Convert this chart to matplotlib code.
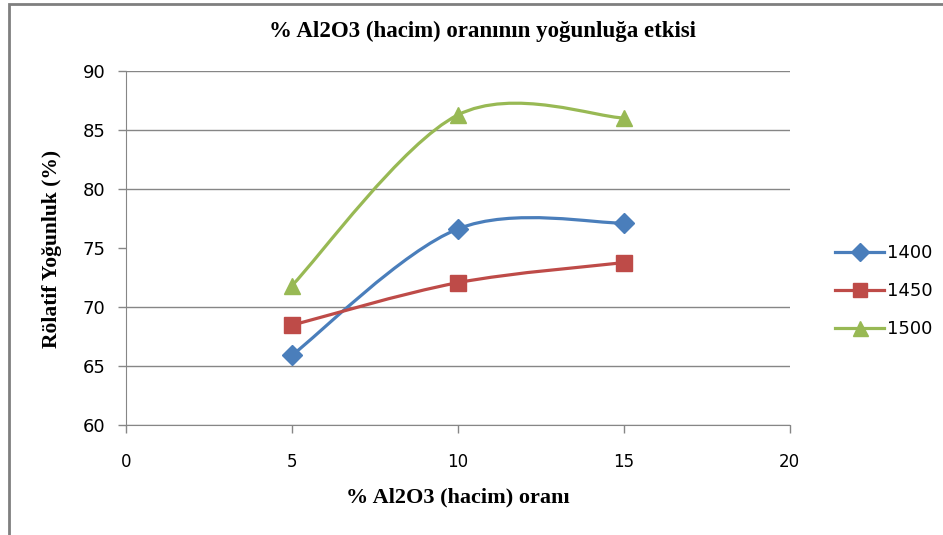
import matplotlib
matplotlib.use("Agg")
import matplotlib.pyplot as plt
import numpy as np
from matplotlib.path import Path
from matplotlib.patches import PathPatch, Rectangle
from matplotlib.lines import Line2D

# data
oran = [5, 10, 15]
y_1400 = [65.9, 76.6, 77.1]
y_1450 = [68.45, 72.05, 73.75]
y_1500 = [71.8, 86.25, 86.0]

series_names = ["1400", "1450", "1500"]
colors = ["#4A7EBB", "#BE4B48", "#98B954"]
markers = ["D", "s", "^"]
marker_sizes = [10, 11, 12]

title = "% Al2O3 (hacim) oranının yoğunluğa etkisi"
xlabel = "% Al2O3 (hacim) oranı"
ylabel = "Rölatif Yoğunluk (%)"
xticks = [0, 5, 10, 15, 20]
yticks = [60, 65, 70, 75, 80, 85, 90]


def smooth_path(xs, ys, f=1/6):
    """Excel-like smoothed line as cubic bezier segments"""
    pts = np.column_stack([xs, ys]).astype(float)
    n = len(pts)
    verts = [pts[0]]
    codes = [Path.MOVETO]
    for i in range(n - 1):
        p_prev = pts[i - 1] if i > 0 else pts[i]
        p_next2 = pts[i + 2] if i + 2 < n else pts[i + 1]
        c1 = pts[i] + (pts[i + 1] - p_prev) * f
        c2 = pts[i + 1] - (p_next2 - pts[i]) * f
        verts += [c1, c2, pts[i + 1]]
        codes += [Path.CURVE4] * 3
    return Path(verts, codes)


fig = plt.figure(figsize=(9.43, 5.35), dpi=100)
ax = fig.add_axes([126/943, 1 - 425/535, 663.5/943, 354.3/535])

# chart border
fig.patches.append(Rectangle((9/943, -0.1), 1.1, 1 - 4/535 + 0.1, transform=fig.transFigure,
                             fill=False, edgecolor="#7F7F7F", lw=2))

handles = []
for ys, name, c, m, ms in zip([y_1400, y_1450, y_1500], series_names, colors, markers, marker_sizes):
    ax.add_patch(PathPatch(smooth_path(oran, ys), fill=False, edgecolor=c, lw=2.3,
                           capstyle="round", zorder=3))
    ax.plot(oran, ys, linestyle="none", marker=m, markersize=ms, color=c, zorder=4)
    handles.append(Line2D([], [], color=c, lw=2.3, marker=m, markersize=ms * 0.9))

ax.set_xlim(0, 20)
ax.set_ylim(60, 90)
ax.set_xticks(xticks)
ax.set_yticks(yticks)
ax.grid(axis="y", color="#868686", lw=1)
for gl, v in zip(ax.yaxis.get_gridlines(), yticks):
    if v == 75:
        gl.set_visible(False)
ax.set_axisbelow(True)
for s in ["top", "right"]:
    ax.spines[s].set_visible(False)
for s in ["left", "bottom"]:
    ax.spines[s].set_color("#868686")
ax.tick_params(axis="both", colors="#868686", direction="out", length=6, width=1, labelcolor="black")
ax.tick_params(axis="y", pad=9, labelsize=13)
ax.tick_params(axis="x", pad=14, labelsize=12)

serif = ["Liberation Serif", "DejaVu Serif"]
fig.text(482/943, 1 - 31/535, title, ha="center", va="center", fontsize=16.5,
         fontweight="bold", family=serif)
ax.set_xlabel(xlabel, fontsize=16, fontweight="bold", family=serif, labelpad=12)
fig.text(52/943, 1 - 249/535, ylabel, ha="center", va="center", rotation=90,
         fontsize=15.5, fontweight="bold", family=serif)

fig.legend(handles, series_names, loc="center left", bbox_to_anchor=(828/943, 1 - 291/535),
           frameon=False, fontsize=13, handlelength=2.7, handletextpad=0.15,
           labelspacing=1.1, borderaxespad=0)

fig.savefig("out.png", dpi=100)
